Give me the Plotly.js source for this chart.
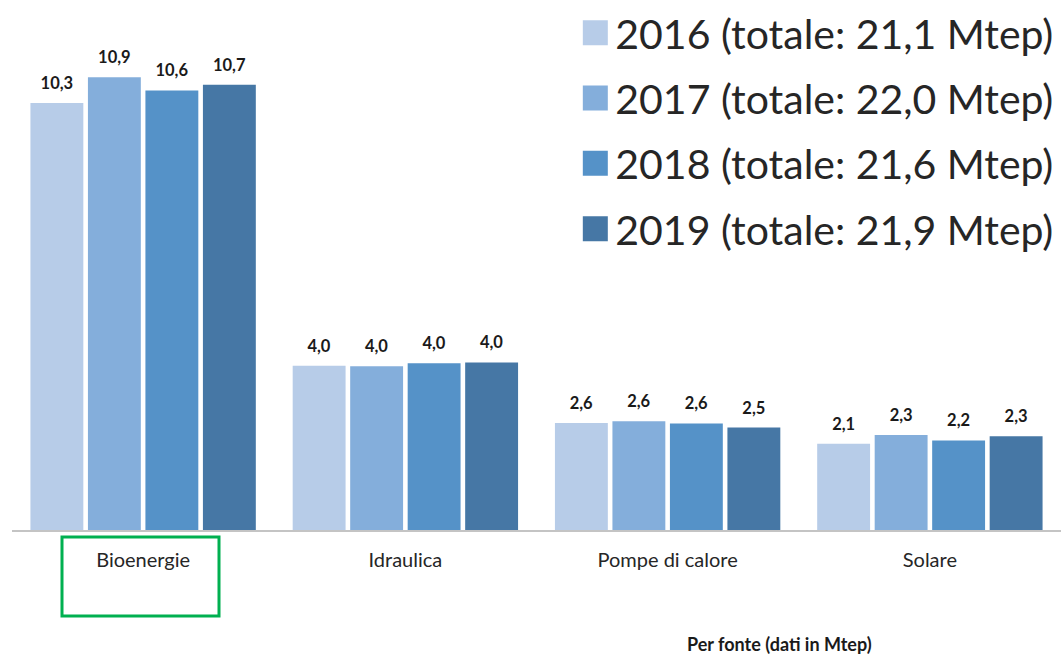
<!DOCTYPE html>
<html>
<head>
<meta charset="utf-8">
<script src="https://cdn.plot.ly/plotly-3.0.1.min.js"></script>
<style>html,body{margin:0;padding:0;background:#fff;}#chart{width:1063px;height:654px;}</style>
</head>
<body>
<div id="chart"></div>
<script>
const categories = ["Bioenergie", "Idraulica", "Pompe di calore", "Solare"];
const years = ["2016", "2017", "2018", "2019"];
const totals = ["21,1", "22,0", "21,6", "21,9"];
const values2016 = [10.3, 3.96, 2.58, 2.08];
const values2017 = [10.92, 3.95, 2.62, 2.29];
const values2018 = [10.6, 4.02, 2.57, 2.16];
const values2019 = [10.74, 4.04, 2.47, 2.26];
const colors = ["#b7cce8", "#84aedb", "#5592c8", "#4677a5"];
const axisTitle = "Per fonte (dati in Mtep)";

const series = [values2016, values2017, values2018, values2019];
const fmt = v => v.toFixed(1).replace('.', ',');

const traces = series.map((vals, i) => ({
  type: 'bar',
  x: categories,
  y: vals,
  name: years[i] + ' (totale: ' + totals[i] + ' Mtep)',
  legendgroup: 'g' + i,
  marker: {color: colors[i]},
  text: vals.map(fmt),
  textposition: 'outside',
  cliponaxis: false,
  textfont: {family: 'Lato, sans-serif', size: 16.5, color: '#1a1a1a', weight: 'bold'},
  hoverinfo: 'x+y+name'
}));

const layout = {
  width: 1063,
  height: 654,
  margin: {l: 12, r: 2, t: 20, b: 124, autoexpand: false},
  paper_bgcolor: '#ffffff',
  plot_bgcolor: '#ffffff',
  barmode: 'group',
  bargap: 0.123,
  bargroupgap: 0.08,
  font: {family: 'Lato, sans-serif', color: '#262626'},
  xaxis: {
    type: 'category',
    showline: true,
    linecolor: '#c4c4c4',
    linewidth: 2,
    ticks: '',
    showgrid: false,
    zeroline: false,
    automargin: false,
    tickfont: {family: 'Lato, sans-serif', size: 20, color: '#262626'},
    ticklabelstandoff: 11
  },
  yaxis: {
    range: [0, 12.3],
    visible: false,
    showgrid: false,
    zeroline: false
  },
  showlegend: true,
  legend: {
    x: 0.537,
    xanchor: 'left',
    y: 1.04,
    yanchor: 'top',
    traceorder: 'grouped',
    tracegroupgap: 9,
    font: {family: 'Lato, sans-serif', size: 41, color: '#262626'},
    bgcolor: 'rgba(0,0,0,0)'
  },
  annotations: [{
    text: '<b>' + axisTitle + '</b>',
    xref: 'paper', yref: 'paper',
    x: (779 - 12) / 1049, y: -(644 - 530) / 510,
    xanchor: 'center', yanchor: 'middle',
    showarrow: false,
    font: {family: 'Lato, sans-serif', size: 18, color: '#1a1a1a'}
  }],
  shapes: [{
    type: 'rect',
    xref: 'paper', yref: 'paper',
    x0: (62 - 12) / 1049, x1: (219 - 12) / 1049,
    y0: -(616 - 530) / 510, y1: -(537 - 530) / 510,
    line: {color: '#00b050', width: 3},
    fillcolor: 'rgba(0,0,0,0)'
  }]
};

Plotly.newPlot('chart', traces, layout, {displayModeBar: false, staticPlot: true}).then(() => {
  document.querySelectorAll('.legend .legendpoints path').forEach(p => {
    p.setAttribute('d', 'M12.5,12.5H-12.5V-12.5H12.5Z');
  });
  document.querySelectorAll('.barlayer text.bartext').forEach(t => {
    t.setAttribute('transform', 'translate(0,-7) ' + (t.getAttribute('transform') || ''));
  });
});
</script>
</body>
</html>
